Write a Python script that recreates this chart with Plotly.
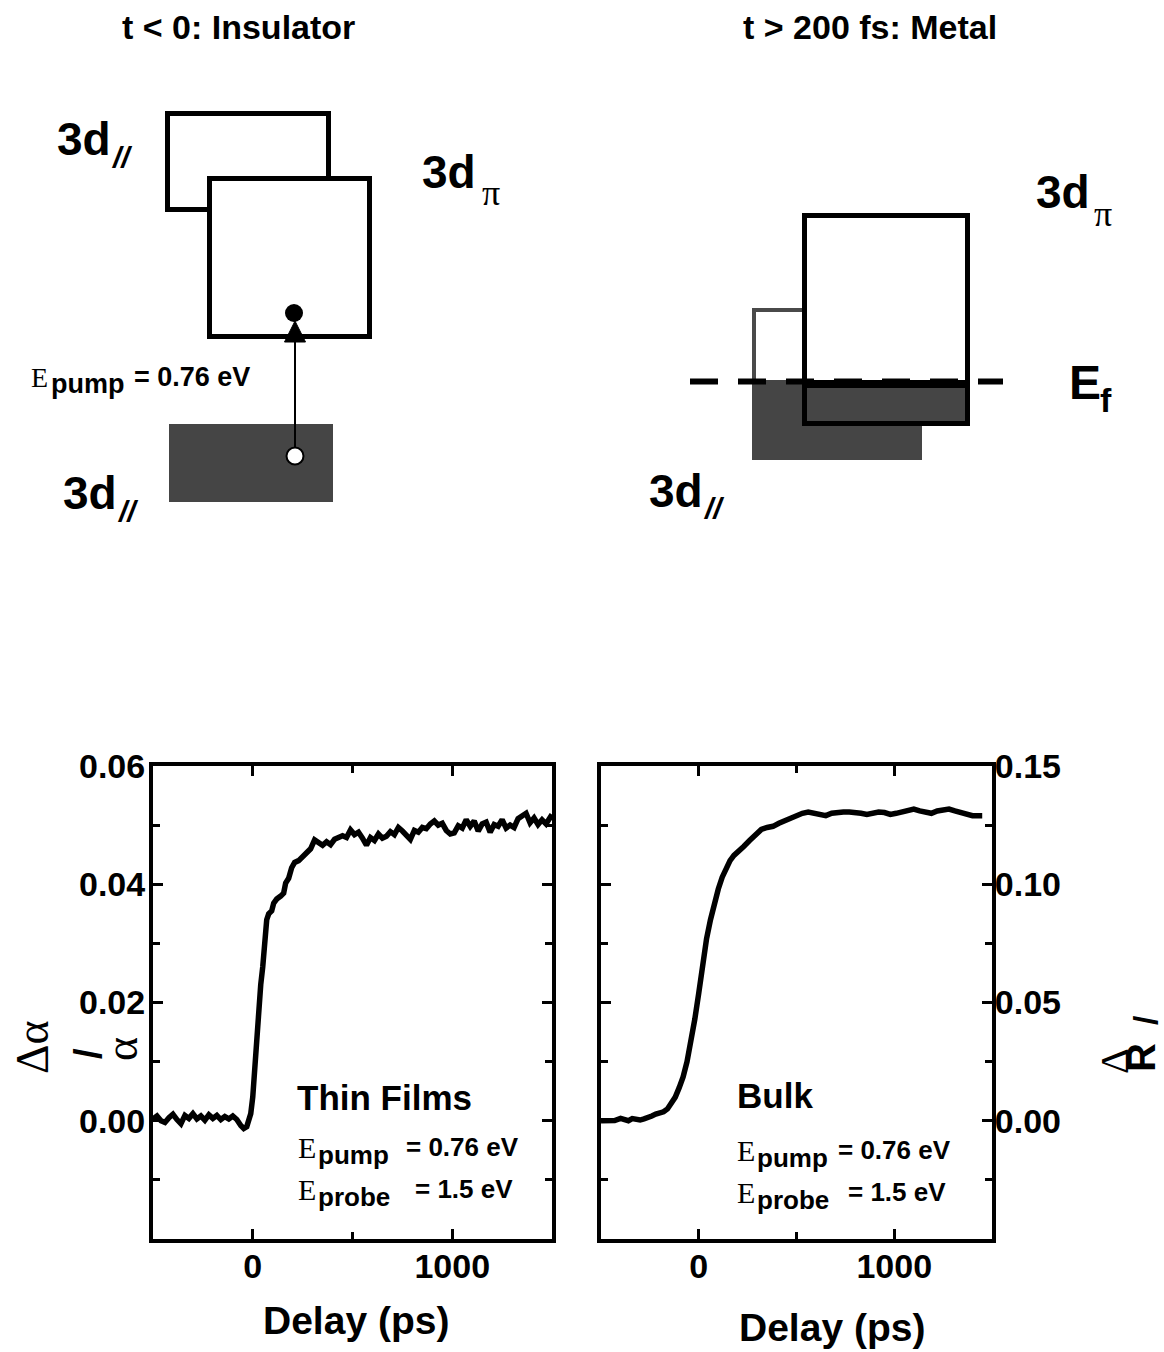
import plotly.graph_objects as go

W, H = 1164, 1352
SANS = "Liberation Sans, Arial, sans-serif"
SERIF = "Liberation Serif, Times New Roman, serif"
GRAY = "#454545"

# ---------------- data ----------------
thin_t = [-500, -480, -460, -440, -420, -400, -380, -360, -340, -320, -300, -280, -260, -240,
          -220, -200, -180, -160, -140, -120, -100, -80, -60, -45, -30, -20, -10, 0, 10, 20,
          30, 40, 50, 60, 70, 80, 95, 105, 120, 140, 155, 165, 180, 195, 210, 230, 250, 270,
          290, 310, 330, 350, 370, 390, 410, 430, 450, 470, 490, 510, 530, 550, 570, 590, 610,
          630, 650, 670, 690, 710, 730, 750, 770, 790, 810, 830, 850, 870, 890, 910, 930, 950,
          970, 990, 1010, 1030, 1050, 1070, 1090, 1110, 1130, 1150, 1170, 1190, 1210, 1230,
          1250, 1270, 1290, 1310, 1330, 1350, 1370, 1390, 1410, 1430, 1450, 1470, 1490, 1500]
thin_v = [0.0003, 0.0008, 0.0000, -0.0003, 0.0005, 0.0011, 0.0002, -0.0005, 0.0009, 0.0004,
          0.0012, 0.0003, 0.0008, 0.0001, 0.0010, 0.0004, 0.0009, 0.0002, 0.0007, 0.0003,
          0.0008, 0.0002, -0.0008, -0.0013, -0.0010, 0.0005, 0.0012, 0.0040, 0.0090, 0.0150,
          0.0200, 0.0230, 0.0260, 0.0300, 0.0340, 0.0350, 0.0355, 0.0368, 0.0375, 0.0380,
          0.0385, 0.0402, 0.0410, 0.0428, 0.0437, 0.0440, 0.0447, 0.0452, 0.0460, 0.0475,
          0.0470, 0.0466, 0.0472, 0.0467, 0.0476, 0.0478, 0.0482, 0.0479, 0.0492, 0.0484,
          0.0488, 0.0478, 0.0466, 0.0479, 0.0474, 0.0485, 0.0478, 0.0481, 0.0489, 0.0484,
          0.0496, 0.0490, 0.0484, 0.0476, 0.0491, 0.0488, 0.0496, 0.0494, 0.0502, 0.0507,
          0.0500, 0.0503, 0.0491, 0.0485, 0.0487, 0.0499, 0.0495, 0.0509, 0.0498, 0.0507,
          0.0490, 0.0502, 0.0505, 0.0488, 0.0501, 0.0498, 0.0509, 0.0495, 0.0500, 0.0496,
          0.0511, 0.0516, 0.0520, 0.0504, 0.0512, 0.0501, 0.0509, 0.0502, 0.0514, 0.0518]

bulk_t = [-500, -460, -430, -400, -380, -360, -340, -320, -300, -280, -260, -240, -220, -200,
          -180, -160, -140, -120, -100, -80, -60, -40, -20, 0, 20, 40, 60, 80, 100, 120, 140,
          160, 180, 200, 230, 260, 290, 320, 350, 380, 410, 440, 470, 500, 530, 560, 590, 620,
          650, 680, 710, 740, 770, 800, 830, 860, 890, 920, 950, 980, 1010, 1040, 1070, 1100,
          1130, 1160, 1190, 1220, 1250, 1280, 1310, 1340, 1370, 1400, 1450]
bulk_v = [0.0000, 0.0000, 0.0001, 0.0010, 0.0004, 0.0000, 0.0009, 0.0004, 0.0003, 0.0008,
          0.0012, 0.0020, 0.0028, 0.0033, 0.0038, 0.0050, 0.0072, 0.0100, 0.0140, 0.0185,
          0.0250, 0.0330, 0.0430, 0.0540, 0.0660, 0.0770, 0.0850, 0.0920, 0.0980, 0.1030,
          0.1070, 0.1100, 0.1122, 0.1140, 0.1160, 0.1185, 0.1210, 0.1232, 0.1240, 0.1245,
          0.1258, 0.1270, 0.1282, 0.1293, 0.1300, 0.1305, 0.1300, 0.1296, 0.1290, 0.1300,
          0.1305, 0.1305, 0.1305, 0.1305, 0.1300, 0.1295, 0.1303, 0.1305, 0.1303, 0.1295,
          0.1300, 0.1308, 0.1312, 0.1318, 0.1310, 0.1305, 0.1300, 0.1310, 0.1315, 0.1318,
          0.1310, 0.1305, 0.1295, 0.1290, 0.1290]

x_range = [-500, 1500]
x_major = [0, 1000]
x_major_text = ["0", "1000"]
x_minor = [-500, 500, 1500]

thin_range = [-0.02, 0.06]
thin_major = [0.00, 0.02, 0.04, 0.06]
thin_minor = [-0.01, 0.01, 0.03, 0.05]

bulk_range = [-0.05, 0.15]
bulk_major = [0.00, 0.05, 0.10, 0.15]
bulk_minor = [-0.025, 0.025, 0.075, 0.125]


def px(x):
    return x / W


def py(y):
    return 1 - y / H


fig = go.Figure()
fig.add_trace(go.Scatter(x=thin_t, y=thin_v, mode="lines", line=dict(color="black", width=5.5),
                         xaxis="x", yaxis="y", showlegend=False))
fig.add_trace(go.Scatter(x=bulk_t, y=bulk_v, mode="lines", line=dict(color="black", width=5.5),
                         xaxis="x2", yaxis="y2", showlegend=False))

tickfont = dict(family=SANS, size=34, color="black", weight="bold")


def xaxis_cfg(d0, d1, anchor):
    return dict(domain=[px(d0), px(d1)], range=x_range, anchor=anchor,
                showline=True, linewidth=4, linecolor="black", mirror="ticks",
                ticks="inside", ticklen=10, tickwidth=3, tickcolor="black",
                tickmode="array", tickvals=x_major, ticktext=x_major_text,
                minor=dict(tickmode="array", tickvals=x_minor, ticks="inside", ticklen=7,
                           tickwidth=3, tickcolor="black"),
                showgrid=False, zeroline=False, tickfont=tickfont, automargin=False,
                ticklabelstandoff=-6)


def yaxis_cfg(rng, major, minor, anchor, side, standoff):
    return dict(domain=[py(1239), py(766)], range=rng, anchor=anchor, side=side,
                showline=True, linewidth=4, linecolor="black", mirror="ticks",
                ticks="inside", ticklen=10, tickwidth=3, tickcolor="black",
                tickmode="array", tickvals=major, tickformat=".2f",
                minor=dict(tickmode="array", tickvals=minor, ticks="inside", ticklen=7,
                           tickwidth=3, tickcolor="black"),
                showgrid=False, zeroline=False, tickfont=tickfont, automargin=False,
                ticklabelstandoff=standoff)


shapes = []


def rect(x0, y0, x1, y1, fill="white", lc="black", lw=0):
    shapes.append(dict(type="rect", xref="paper", yref="paper", x0=px(x0), x1=px(x1),
                       y0=py(y1), y1=py(y0), fillcolor=fill,
                       line=dict(color=lc, width=lw)))


def circle(cx, cy, r, fill, lc="black", lw=0):
    shapes.append(dict(type="circle", xref="paper", yref="paper", x0=px(cx - r), x1=px(cx + r),
                       y0=py(cy + r), y1=py(cy - r), fillcolor=fill,
                       line=dict(color=lc, width=lw)))


def seg(x0, y0, x1, y1, lc="black", lw=2, dash="solid"):
    shapes.append(dict(type="line", xref="paper", yref="paper", x0=px(x0), x1=px(x1),
                       y0=py(y0), y1=py(y1), line=dict(color=lc, width=lw, dash=dash)))


# ---- top-left diagram: insulator ----
rect(167.5, 113.5, 328.5, 209.5, lw=5)
rect(209.5, 178.5, 369.5, 336.5, lw=5)
rect(169, 424, 333, 502, fill=GRAY, lc=GRAY, lw=0)
seg(295, 340, 295, 448, lw=2)
shapes.append(dict(type="path", xref="paper", yref="paper",
                   path=f"M {px(295)},{py(321)} L {px(284.5)},{py(342)} L {px(305.5)},{py(342)} Z",
                   fillcolor="black", line=dict(color="black", width=1)))
circle(294, 313, 9, "black")
circle(295, 456, 8.5, "white", lw=2)

# ---- top-right diagram: metal ----
rect(754, 310, 920, 458, fill="white", lc="#4a4a4a", lw=4)
rect(752, 380, 922, 460, fill=GRAY, lc=GRAY, lw=0)
rect(804.5, 215.5, 967.5, 423.5, lw=5)
rect(807, 383, 965, 421, fill=GRAY, lc=GRAY, lw=0)
seg(802, 384, 970, 384, lw=8)
seg(690, 381.5, 1003, 381.5, lw=6, dash="28px,20px")

annotations = []


def txt(s, x, y, size, family=SANS, xanchor="left", angle=0, bold=True, italic=False):
    annotations.append(dict(text=s, x=px(x), y=py(y), xref="paper", yref="paper",
                            showarrow=False, xanchor=xanchor, yanchor="middle",
                            textangle=angle, borderpad=0,
                            font=dict(family=family, size=size, color="black",
                                      weight="bold" if bold else "normal",
                                      style="italic" if italic else "normal")))


# titles
txt("t < 0: Insulator", 238, 27, 34, xanchor="center")
txt("t > 200 fs: Metal", 870, 27, 34, xanchor="center")

# band labels
txt("3d", 56, 139, 46)
txt("//", 110, 158, 30, italic=True)
txt("3d", 421, 172, 46)
txt("π", 481, 193, 36, family=SERIF, bold=False)
txt("3d", 62, 493, 46)
txt("//", 116, 511, 30, italic=True)
txt("3d", 1035, 192, 46)
txt("π", 1093, 214, 36, family=SERIF, bold=False)
txt("3d", 648, 491, 46)
txt("//", 702, 508, 30, italic=True)
txt("E", 1068, 382, 48)
txt("f", 1099, 400, 34)

# pump energy label in diagram
txt("E", 30, 377, 28, family=SERIF, bold=False)
txt("pump", 50, 384, 27)
txt("= 0.76 eV", 133, 377, 27)

# panel annotations
txt("Thin Films", 296, 1097, 35)
txt("E", 297, 1147, 30, family=SERIF, bold=False)
txt("pump", 317, 1155, 26)
txt("= 0.76 eV", 405, 1147, 26)
txt("E", 297, 1189, 30, family=SERIF, bold=False)
txt("probe", 317, 1197, 26)
txt("= 1.5 eV", 414, 1189, 26)

txt("Bulk", 736, 1095, 35)
txt("E", 736, 1150, 30, family=SERIF, bold=False)
txt("pump", 756, 1158, 26)
txt("= 0.76 eV", 837, 1150, 26)
txt("E", 736, 1192, 30, family=SERIF, bold=False)
txt("probe", 756, 1200, 26)
txt("= 1.5 eV", 847, 1192, 26)

# axis titles
txt("Delay (ps)", 356, 1320, 39, xanchor="center")
txt("Delay (ps)", 832, 1327, 39, xanchor="center")
txt("Δα", 32, 1047, 46, family=SERIF, xanchor="center", angle=-90, bold=False)
txt("/", 88, 1054, 38, xanchor="center", angle=-90)
txt("α", 121, 1049, 46, family=SERIF, xanchor="center", angle=-90, bold=False)
txt("Δ", 1114, 1061, 40, family=SERIF, xanchor="center", angle=-90, bold=False)
txt("R", 1141, 1058, 40, xanchor="center", angle=-90)
txt("/", 1145, 1020, 34, xanchor="center", angle=-90)

fig.update_layout(
    width=W, height=H, autosize=False,
    margin=dict(l=0, r=0, t=0, b=0, pad=0),
    paper_bgcolor="white", plot_bgcolor="white",
    showlegend=False,
    xaxis=xaxis_cfg(153, 552, "y"),
    yaxis=yaxis_cfg(thin_range, thin_major, thin_minor, "x", "left", -3),
    xaxis2=xaxis_cfg(601, 992, "y2"),
    yaxis2=yaxis_cfg(bulk_range, bulk_major, bulk_minor, "x2", "right", -8),
    shapes=shapes,
    annotations=annotations,
)

fig.write_html(
    "out.html",
    config={"displayModeBar": False},
    post_script="document.body.style.margin='0px';"
                "document.documentElement.style.overflow='hidden';",
)
